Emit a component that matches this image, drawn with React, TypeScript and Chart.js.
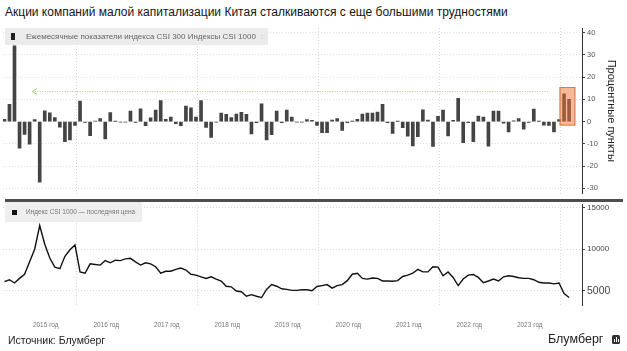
import React, { useEffect, useRef } from 'react';
import { Chart, registerables } from 'chart.js';

Chart.register(...registerables);

const FONT = '"Liberation Sans", Arial, Helvetica, sans-serif';

// Month-end index of the first value: t = 0 is 1 Jan 2015, first value is end of Oct 2014
const START_T = -2;
const X_SHIFT = -0.2;
const X_MIN = -2.48;
const X_MAX = 112.36;

// Monthly performance difference CSI 300 − CSI 1000, percentage points (Oct 2014 … Feb 2024)
const BAR_DIFF = [
  1, 7.7, 34, -12, -5.8, -10.2, 0.9, -27.2, 4.8, 3.9,
  1.8, -2.5, -9, -8.3, -1.7, 9.2, -0.4, -6.3, 0.2, 1.3,
  -7.8, 4, 0.1, -0.3, -0.3, 4.7, -0.4, 5.7, -1.8, 1.7,
  5.2, 9.4, 1, 2, -0.9, -1.8, 6.9, 6.2, 2, 9.4,
  -2.6, -7.1, -0.3, 3.8, 3.2, 1.8, 3.3, 4.1, 3.2, -5.5,
  -0.5, 8, -8.3, -5.9, 4.7, -0.5, 5.2, 2, -0.3, -0.3,
  0.9, 0.6, -1.7, -5, -5, 0.7, 1.3, -4, -0.5, 0.1,
  1, 3.3, 3.8, 3.8, 4.3, 7.7, -0.5, -5.3, 0.1, -2.8,
  -6.6, -10.9, -6.8, 5.3, 0.7, -11.2, 2.4, 5.1, -6.5, 0.6,
  10.4, -9.5, -0.5, -9, 2.5, 2, -11, 4.7, 4.7, -0.7,
  -4.6, 0.3, 1.3, -3.4, -0.4, 5.6, 0.1, -1.6, -1.7, -4.6,
  0.9, 12.4, 10,
];

// CSI 1000 index, last price (month end, Oct 2014 … Feb 2024)
const CSI1000 = [
  6110, 6340, 5950, 6500, 7000, 8500, 10000, 12850, 10600, 8950,
  7860, 7670, 9150, 9930, 10510, 7280, 7120, 8250, 8170, 8100,
  8640, 8370, 8680, 8640, 8840, 8910, 8490, 8100, 8370, 8250,
  7900, 7120, 7360, 7360, 7590, 7750, 7510, 7000, 6890, 6690,
  6500, 6690, 6420, 6190, 5560, 5490, 4980, 4900, 4360, 4550,
  4360, 4200, 5180, 5760, 5560, 5250, 5180, 5060, 5060, 5140,
  5140, 5020, 5530, 5640, 5760, 5330, 5640, 5760, 6230, 7000,
  7120, 6500, 6420, 6540, 6500, 6190, 6190, 6150, 6230, 6730,
  6890, 7120, 7590, 7280, 7280, 7900, 7860, 6810, 7280, 6620,
  5640, 6420, 6890, 6970, 6620, 5990, 6190, 6420, 6190, 6690,
  6810, 6730, 6580, 6500, 6500, 6340, 6030, 5950, 5950, 5840,
  5950, 4670, 4200,
];

const YEAR_LABELS = ['2015 год', '2016 год', '2017 год', '2018 год', '2019 год', '2020 год', '2021 год', '2022 год', '2023 год'];
const GRID_T = [12, 36, 60, 84, 108];
const TOP_TICKS = [-30, -20, -10, 0, 10, 20, 30, 40];
const TOP_MIN = -32.3;
const TOP_MAX = 42;
const BOTTOM_TICKS = [5000, 10000, 15000];
const BOTTOM_MIN = 3306;
const BOTTOM_MAX = 15339;

// annotations
const ARROW_VALUE = 13.5;
const ARROW_FROM_T = 3.3;
const ARROW_TO_T = 105.8;
const BOX_T = [107.9, 111.05];
const BOX_V = [-1.8, 15.5];

const labelTicks = YEAR_LABELS.map((_, i) => 6 + 12 * i);
const allXTicks = Array.from(new Set([...labelTicks, ...GRID_T])).sort((a, b) => a - b);

function xScale(showLabels: boolean): any {
  return {
    type: 'linear',
    min: X_MIN,
    max: X_MAX,
    offset: false,
    afterBuildTicks: (s: any) => {
      s.ticks = (showLabels ? allXTicks : GRID_T).map((v) => ({ value: v }));
    },
    afterFit: showLabels ? (s: any) => { s.height = 29; } : undefined,
    grid: {
      display: true,
      drawTicks: false,
      offset: false,
      lineWidth: 1,
      color: (c: any) => (c.tick && GRID_T.includes(c.tick.value) ? '#d6d6d6' : 'rgba(0,0,0,0)'),
    },
    border: { display: false, dash: [1, 2] },
    ticks: {
      display: showLabels,
      autoSkip: false,
      maxRotation: 0,
      minRotation: 0,
      padding: 16,
      color: '#777',
      font: { size: 6.5, family: FONT },
      callback: (v: number) => {
        const idx = labelTicks.indexOf(v);
        return idx >= 0 ? YEAR_LABELS[idx] : '';
      },
    },
  };
}

const overlayPlugin = {
  id: 'overlay',
  afterDatasetsDraw(chart: any) {
    const { ctx, scales } = chart;
    const x = scales.x;
    const y = scales.y;
    ctx.save();
    const yy = Math.round(y.getPixelForValue(ARROW_VALUE)) + 0.5;
    const x0 = x.getPixelForValue(ARROW_FROM_T);
    const x1 = x.getPixelForValue(ARROW_TO_T);
    ctx.strokeStyle = '#a6d277';
    ctx.lineWidth = 1;
    ctx.setLineDash([1, 1.5]);
    ctx.beginPath();
    ctx.moveTo(x0, yy);
    ctx.lineTo(x1, yy);
    ctx.stroke();
    ctx.setLineDash([]);
    ctx.beginPath();
    ctx.moveTo(x0 + 5, yy - 3);
    ctx.lineTo(x0, yy);
    ctx.lineTo(x0 + 5, yy + 3);
    ctx.stroke();

    const bx0 = x.getPixelForValue(BOX_T[0]);
    const bx1 = x.getPixelForValue(BOX_T[1]);
    const by0 = y.getPixelForValue(BOX_V[1]);
    const by1 = y.getPixelForValue(BOX_V[0]);
    ctx.fillStyle = 'rgba(238,118,52,0.5)';
    ctx.fillRect(bx0, by0, bx1 - bx0, by1 - by0);
    ctx.strokeStyle = 'rgba(226,104,40,0.85)';
    ctx.strokeRect(bx0 + 0.5, by0 + 0.5, bx1 - bx0 - 1, by1 - by0 - 1);
    ctx.restore();
  },
};

export default function App() {
  const topRef = useRef<HTMLCanvasElement>(null);
  const botRef = useRef<HTMLCanvasElement>(null);

  useEffect(() => {
    const xs = BAR_DIFF.map((_, i) => START_T + i + X_SHIFT);
    const top = new Chart(topRef.current as HTMLCanvasElement, {
      type: 'bar',
      data: {
        datasets: [
          {
            data: BAR_DIFF.map((v, i) => ({ x: xs[i], y: v })),
            backgroundColor: '#444444',
            barThickness: 3,
          } as any,
        ],
      },
      options: {
        animation: false,
        responsive: false,
        events: [],
        layout: { padding: { left: 3, top: 8, right: 0, bottom: 4 } },
        plugins: { legend: { display: false }, tooltip: { enabled: false } },
        scales: {
          x: xScale(false),
          y: {
            position: 'right',
            min: TOP_MIN,
            max: TOP_MAX,
            afterBuildTicks: (s: any) => { s.ticks = TOP_TICKS.map((v) => ({ value: v })); },
            afterFit: (s: any) => { s.width = 45; },
            grid: { color: '#e0e0e0', drawTicks: true, tickLength: 3, tickColor: '#444', tickWidth: 1 },
            border: { display: true, color: '#333', width: 1, dash: [1, 2] },
            ticks: {
              padding: 2,
              color: '#555',
              font: { size: 7.5, family: FONT },
              callback: (v: any) => String(v),
            },
            title: {
              display: true,
              text: 'Процентные пункты',
              color: '#222',
              font: { size: 11, family: FONT },
              padding: { top: 9, bottom: 0 },
            },
          } as any,
        },
      },
      plugins: [overlayPlugin],
    });

    const bot = new Chart(botRef.current as HTMLCanvasElement, {
      type: 'line',
      data: {
        datasets: [
          {
            data: CSI1000.map((v, i) => ({ x: START_T + i + X_SHIFT, y: v })),
            borderColor: '#111111',
            borderWidth: 1.4,
            pointRadius: 0,
            tension: 0,
            fill: false,
          } as any,
        ],
      },
      options: {
        animation: false,
        responsive: false,
        events: [],
        layout: { padding: { left: 3, top: 4, right: 0, bottom: 0 } },
        plugins: { legend: { display: false }, tooltip: { enabled: false } },
        scales: {
          x: xScale(true),
          y: {
            position: 'right',
            min: BOTTOM_MIN,
            max: BOTTOM_MAX,
            afterBuildTicks: (s: any) => { s.ticks = BOTTOM_TICKS.map((v) => ({ value: v })); },
            afterFit: (s: any) => { s.width = 45; },
            grid: { color: '#dadada', drawTicks: true, tickLength: 3, tickColor: '#444', tickWidth: 1 },
            border: { display: true, color: '#333', width: 1, dash: [1, 2] },
            ticks: {
              padding: 2,
              color: '#444',
              font: (c: any) => ({
                size: c.tick && c.tick.value === 5000 ? 10.5 : 8,
                family: FONT,
              }),
              callback: (v: any) => String(v),
            },
          } as any,
        },
      },
    });

    return () => {
      top.destroy();
      bot.destroy();
    };
  }, []);

  return (
    <div
      style={{
        position: 'absolute',
        left: 0,
        top: 0,
        width: 627,
        height: 351,
        background: '#ffffff',
        fontFamily: FONT,
        overflow: 'hidden',
      }}
    >
      <div
        style={{
          position: 'absolute',
          left: 5,
          top: 3,
          fontSize: 12,
          lineHeight: '18px',
          color: '#151515',
          whiteSpace: 'nowrap',
        }}
      >
        Акции компаний малой капитализации Китая сталкиваются с еще большими трудностями
      </div>

      <canvas
        ref={topRef}
        width={627}
        height={180}
        style={{ position: 'absolute', left: 0, top: 20, width: 627, height: 180 }}
      />
      <canvas
        ref={botRef}
        width={627}
        height={136}
        style={{ position: 'absolute', left: 0, top: 198, width: 627, height: 136 }}
      />

      {/* top legend */}
      <div
        style={{
          position: 'absolute',
          left: 5,
          top: 28,
          width: 263,
          height: 17,
          background: 'rgba(234,234,234,0.95)',
        }}
      >
        <div style={{ position: 'absolute', left: 6, top: 5, width: 3.5, height: 6.5, background: '#222' }} />
        <div
          style={{
            position: 'absolute',
            left: 21,
            top: 0,
            fontSize: 8,
            lineHeight: '17px',
            color: '#666',
            whiteSpace: 'nowrap',
          }}
        >
          Ежемесячные показатели индекса CSI 300 Индексы CSI 1000
        </div>
        <div style={{ position: 'absolute', left: 256, top: 0, fontSize: 8, lineHeight: '17px', color: '#aaa' }}>:</div>
      </div>

      {/* separator */}
      <div style={{ position: 'absolute', left: 5, top: 199, width: 618, height: 2.5, background: '#4d4d4d' }} />

      {/* bottom legend */}
      <div
        style={{
          position: 'absolute',
          left: 5,
          top: 202,
          width: 137,
          height: 20,
          background: 'rgba(237,237,237,0.95)',
        }}
      >
        <div style={{ position: 'absolute', left: 6.5, top: 8, width: 5, height: 5, background: '#111' }} />
        <div
          style={{
            position: 'absolute',
            left: 21,
            top: 0,
            fontSize: 6.5,
            lineHeight: '19px',
            color: '#777',
            whiteSpace: 'nowrap',
          }}
        >
          Индекс CSI 1000 — последняя цена
        </div>
      </div>

      {/* footer */}
      <div
        style={{
          position: 'absolute',
          left: 8,
          top: 333,
          fontSize: 10.5,
          lineHeight: '15px',
          color: '#222',
          whiteSpace: 'nowrap',
        }}
      >
        Источник: Блумберг
      </div>
      <div
        style={{
          position: 'absolute',
          left: 548,
          top: 331,
          fontSize: 12.5,
          lineHeight: '16px',
          color: '#222',
          whiteSpace: 'nowrap',
        }}
      >
        Блумберг
      </div>
      <div
        style={{
          position: 'absolute',
          left: 612,
          top: 335,
          width: 8,
          height: 9,
          background: '#333',
          borderRadius: 1.5,
        }}
      >
        <div style={{ position: 'absolute', left: 2, top: 4, width: 1, height: 3, background: '#fff' }} />
        <div style={{ position: 'absolute', left: 3.8, top: 2, width: 1, height: 5, background: '#fff' }} />
        <div style={{ position: 'absolute', left: 5.6, top: 3.5, width: 1, height: 3.5, background: '#fff' }} />
      </div>
    </div>
  );
}
